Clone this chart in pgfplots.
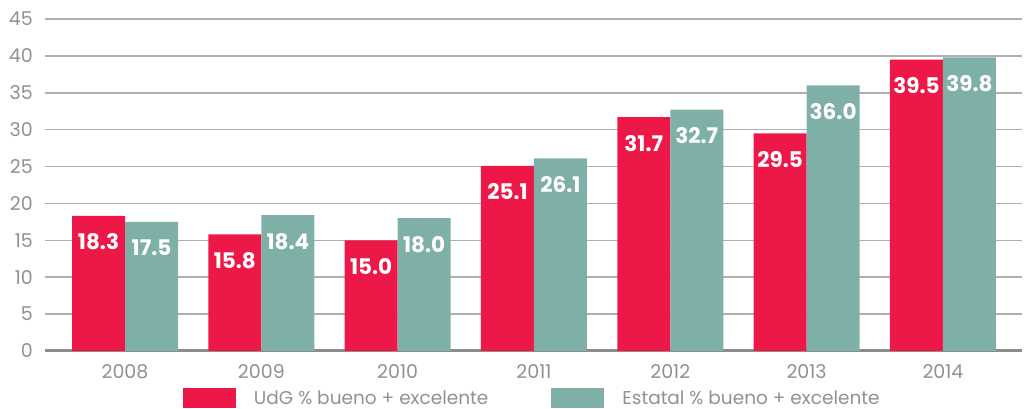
\documentclass[border=0pt]{standalone}
\usepackage{fontspec}
\setmainfont{Poppins}
\usepackage{pgfplots}
\pgfplotsset{compat=1.18}
\definecolor{udg}{RGB}{238,24,72}
\definecolor{est}{RGB}{127,176,168}
\definecolor{tickc}{RGB}{145,145,145}
\definecolor{gridc}{RGB}{175,175,175}
\begin{document}
\begin{tikzpicture}
\begin{axis}[
  scale only axis, width=977pt, height=332pt,
  xmin=-0.587, xmax=6.58, ymin=0, ymax=45,
  ytick={0,5,...,45},
  xtick={0,...,6}, xticklabels={2008,2009,2010,2011,2012,2013,2014},
  ybar=0pt, bar width=53pt,
  axis line style={draw=none}, tick style={draw=none},
  ymajorgrids, grid style={gridc, line width=1.6pt},
  extra y ticks={0}, extra y tick labels={},
  extra y tick style={grid style={color=gray!90, line width=3pt}},
  ticklabel style={font=\fontsize{19}{19}\selectfont, text=tickc},
  yticklabel style={inner sep=0pt, xshift=-12pt},
  xticklabel style={inner sep=0pt, yshift=-9pt},
  /pgf/number format/assume math mode=true,
  nodes near coords,
  nodes near coords style={font=\bfseries\fontsize{21.5}{21.5}\selectfont, text=white, anchor=center, yshift=-26pt,
    /pgf/number format/.cd, fixed, fixed zerofill, precision=1, assume math mode=true},
  legend columns=2,
  legend style={at={(axis description cs:0.1412,-0.1416)}, anchor=west, draw=none, fill=none,
    inner sep=0pt, outer sep=0pt,
    font=\fontsize{18.5}{18.5}\selectfont, text=tickc,
    nodes={inner sep=0pt},
    /tikz/every odd column/.append style={column sep=18pt},
    /tikz/every even column/.append style={column sep=63pt}},
  legend image code/.code={\fill[#1] (0pt,-10pt) rectangle (53pt,10pt);},
]
\addplot[fill=udg, draw=none] coordinates {(0,18.3) (1,15.8) (2,15.0) (3,25.1) (4,31.7) (5,29.5) (6,39.5)};
\addplot[fill=est, draw=none] coordinates {(0,17.5) (1,18.4) (2,18.0) (3,26.1) (4,32.7) (5,36.0) (6,39.8)};
\legend{UdG \% bueno + excelente, Estatal \% bueno + excelente}
\end{axis}
\pgfresetboundingbox
\path[use as bounding box] ([xshift=-45pt,yshift=-58pt]current axis.south west) rectangle ([xshift=2pt,yshift=19pt]current axis.north east);
\end{tikzpicture}
\end{document}
